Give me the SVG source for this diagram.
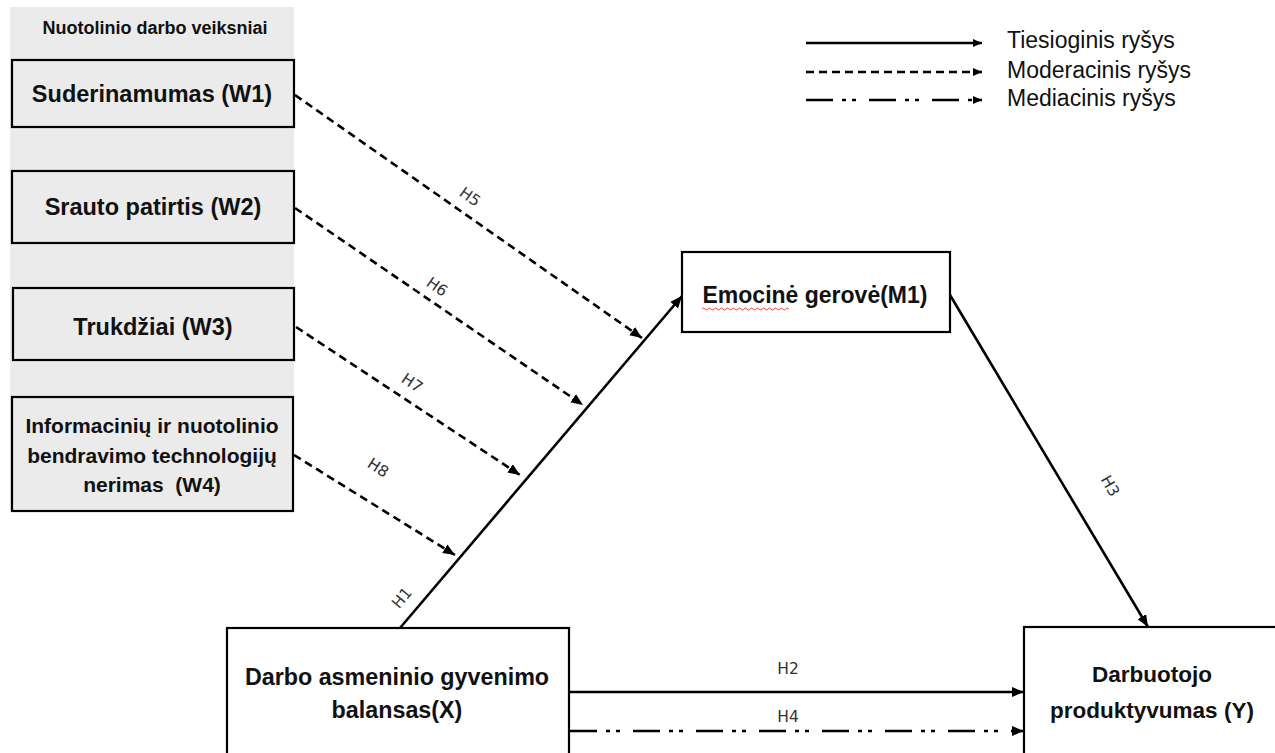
<svg xmlns="http://www.w3.org/2000/svg" width="1275" height="753" viewBox="0 0 1275 753">
<defs>
<marker id="ah" markerUnits="userSpaceOnUse" markerWidth="14" markerHeight="12" refX="12" refY="5" orient="auto">
<path d="M0,0 L12,5 L0,10 Z" fill="#000"/>
</marker>
<marker id="ahs" markerUnits="userSpaceOnUse" markerWidth="12" markerHeight="10" refX="9" refY="4" orient="auto">
<path d="M0,0 L9,4 L0,8 Z" fill="#000"/>
</marker>
</defs>
<style>
.box{stroke:#000;stroke-width:2.2;}
.g{fill:#ebebeb;}
.w{fill:#fff;}
.bt{font-family:"Liberation Sans",Arial,sans-serif;font-weight:bold;fill:#111;text-anchor:middle;}
.lg{font-family:"Liberation Sans",Arial,sans-serif;font-size:23px;fill:#111;}
.hl{font-family:"DejaVu Sans",sans-serif;font-size:15.5px;fill:#333;text-anchor:middle;dominant-baseline:central;}
.solid{stroke:#000;stroke-width:2.6;fill:none;}
.dash{stroke:#000;stroke-width:2.6;fill:none;stroke-dasharray:8 5;}
.dd{stroke:#000;stroke-width:2.6;fill:none;stroke-dasharray:27 9 4 6 4 13;}
</style>

<rect x="10" y="7" width="284" height="504" fill="#ebebeb"/>
<text class="bt" x="155" y="34" font-size="18">Nuotolinio darbo veiksniai</text>

<g id="W1">
<rect class="box g" x="12" y="60" width="282" height="67"/>
<text class="bt" x="152" y="102" font-size="23.5">Suderinamumas (W1)</text>
</g>
<g id="W2">
<rect class="box g" x="12" y="171" width="282" height="72"/>
<text class="bt" x="153" y="215" font-size="23.5">Srauto patirtis (W2)</text>
</g>
<g id="W3">
<rect class="box g" x="13" y="288" width="281" height="72"/>
<text class="bt" x="153" y="335" font-size="23.5">Trukdžiai (W3)</text>
</g>
<g id="W4">
<rect class="box g" x="12" y="397" width="281" height="114"/>
<text class="bt" x="152" y="433" font-size="21">Informacinių ir nuotolinio</text>
<text class="bt" x="152" y="463" font-size="21">bendravimo technologijų</text>
<text class="bt" x="152" y="492" font-size="21" xml:space="preserve">nerimas  (W4)</text>
</g>
<g id="M1">
<rect class="box w" x="682" y="252" width="268" height="80"/>
<text class="bt" x="815" y="303" font-size="23">Emocinė gerovė(M1)</text>
<path d="M702,309 q1.5,-2 3,0 t3,0 t3,0 t3,0 t3,0 t3,0 t3,0 t3,0 t3,0 t3,0 t3,0 t3,0 t3,0 t3,0 t3,0 t3,0 t3,0 t3,0 t3,0 t3,0 t3,0 t3,0 t3,0 t3,0 t3,0 t3,0 t3,0 t3,0 t3,0" fill="none" stroke="#e02020" stroke-width="0.8"/>
</g>
<g id="X">
<rect class="box w" x="227" y="628" width="342" height="140"/>
<text class="bt" x="397" y="685" font-size="23.3">Darbo asmeninio gyvenimo</text>
<text class="bt" x="397" y="718" font-size="23.3">balansas(X)</text>
</g>
<g id="Y">
<rect class="box w" x="1024" y="627" width="270" height="140"/>
<text class="bt" x="1152" y="682" font-size="22.5">Darbuotojo</text>
<text class="bt" x="1152" y="718" font-size="22.5">produktyvumas (Y)</text>
</g>

<g id="connectors">
<line class="solid" x1="400" y1="628" x2="682" y2="296" marker-end="url(#ah)"/>
<line class="solid" x1="950" y1="295" x2="1148" y2="627" marker-end="url(#ah)"/>
<line class="solid" x1="570" y1="692" x2="1024" y2="692" marker-end="url(#ah)"/>
<line class="dd" x1="570" y1="731" x2="1024" y2="731" marker-end="url(#ah)"/>
<line class="dash" x1="295" y1="95" x2="642" y2="338" marker-end="url(#ah)"/>
<line class="dash" x1="295" y1="208" x2="583" y2="405" marker-end="url(#ah)"/>
<line class="dash" x1="296" y1="327" x2="520" y2="475" marker-end="url(#ah)"/>
<line class="dash" x1="294" y1="455" x2="455" y2="555" marker-end="url(#ah)"/>
</g>

<g id="labels">
<text class="hl" transform="translate(470,197) rotate(35)">H5</text>
<text class="hl" transform="translate(437,287) rotate(35)">H6</text>
<text class="hl" transform="translate(412,383) rotate(34)">H7</text>
<text class="hl" transform="translate(378,468) rotate(33)">H8</text>
<text class="hl" transform="translate(402,598) rotate(-50)">H1</text>
<text class="hl" transform="translate(1110,486) rotate(60)">H3</text>
<text class="hl" x="788" y="669">H2</text>
<text class="hl" x="788" y="717">H4</text>
</g>

<g id="legend">
<line class="solid" x1="806" y1="43" x2="982" y2="43" stroke-width="2" marker-end="url(#ahs)"/>
<line class="dash" x1="806" y1="72" x2="982" y2="72" stroke-dasharray="7 4.5" marker-end="url(#ahs)"/>
<line class="dd" x1="806" y1="100" x2="982" y2="100" stroke-dasharray="17 10 3 7 3 17" marker-end="url(#ahs)"/>
<text class="lg" x="1007" y="48">Tiesioginis ryšys</text>
<text class="lg" x="1007" y="78">Moderacinis ryšys</text>
<text class="lg" x="1007" y="106">Mediacinis ryšys</text>
</g>
</svg>
